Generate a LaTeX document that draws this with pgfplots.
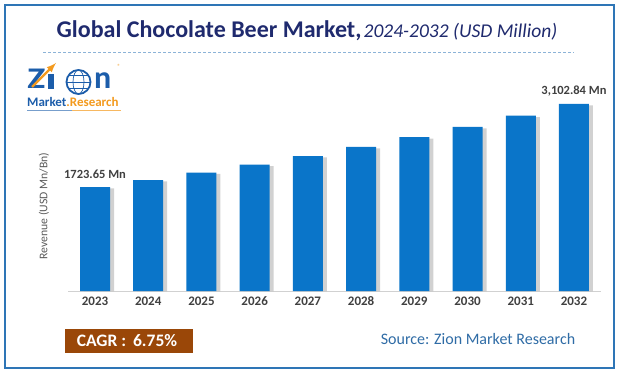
\documentclass[border=0pt]{standalone}
\usepackage{pgfplots}
\pgfplotsset{compat=1.18}
\usepackage{fontspec}
\setmainfont{Carlito}
\definecolor{barblue}{HTML}{0A75C9}
\definecolor{titlenavy}{HTML}{1F2A6E}
\definecolor{zionblue}{HTML}{1C5DAA}
\definecolor{zionorange}{HTML}{F39A1E}
\definecolor{cagrbrown}{HTML}{9A4708}
\definecolor{srcblue}{HTML}{2F6CA6}
\definecolor{framecol}{HTML}{2E75B6}
\definecolor{labgray}{HTML}{404040}
\begin{document}
\begin{tikzpicture}[x=1pt,y=1pt]
\path[use as bounding box, fill=white] (0,0) rectangle (621,375);
% frame
\draw[framecol, line width=1.3pt] (5,7) rectangle (614,370);
% title
\node[anchor=base, text=titlenavy, inner sep=0] at (307,337)
  {{\fontsize{24}{27}\selectfont\bfseries Global Chocolate Beer Market,} {\fontsize{19.5}{22}\selectfont\itshape 2024-2032 (USD Million)}};
\draw[color=framecol!55, line width=0.8pt, dash pattern=on 3pt off 2pt] (43,323) -- (574,323);
% logo
\node[anchor=base west, text=zionblue, inner sep=0, xscale=1.25] at (27,286) {\fontsize{30}{30}\selectfont\bfseries Z};
\fill[zionblue] (48,286) rectangle (54,301);
\draw[zionorange, line width=2.2pt, -{latex}] (32,288) -- (56,312);
\draw[zionblue, line width=1.8pt] (78.5,293) circle (12);
\draw[zionblue, line width=0.7pt] (78.5,293) ellipse (5.5 and 12);
\draw[zionblue, line width=0.7pt] (66.5,293) -- (90.5,293);
\draw[zionblue, line width=0.7pt] (68.5,299.5) -- (88.5,299.5);
\draw[zionblue, line width=0.7pt] (68.5,286.5) -- (88.5,286.5);
\node[anchor=base west, text=zionblue, inner sep=0] at (94,286) {\fontsize{32}{32}\selectfont\bfseries n};
\node[text=zionorange, inner sep=0] at (119,309) {\fontsize{6}{6}\selectfont\textregistered};
\node[anchor=base west, inner sep=0] at (27,268) {\fontsize{13}{13}\selectfont\bfseries\textcolor{zionblue}{Market}\textcolor{zionorange}{.Research}};
\draw[zionblue!60, line width=0.6pt] (27,265) -- (72,265);
\draw[zionorange!70, line width=0.6pt] (72,265) -- (121,265);
% y label
\node[rotate=90, text=black!65, inner sep=0] at (44,169) {\fontsize{11.7}{13}\selectfont Revenue (USD Mn/Bn)};
% axis
\begin{axis}[
  at={(68.4pt,84pt)}, anchor=south west,
  scale only axis, width=532.2pt, height=205pt,
  xmin=-0.5, xmax=9.5, ymin=0, ymax=3400,
  axis y line=none,
  axis x line*=bottom,
  x axis line style={draw=black!18, line width=0.8pt, -},
  xtick={0,...,9},
  xticklabels={2023,2024,2025,2026,2027,2028,2029,2030,2031,2032},
  xticklabel style={font=\fontsize{13}{14}\selectfont\bfseries, text=labgray, yshift=-2pt},
  major tick length=0pt,
  ybar, bar width=30pt,
  clip=false,
]
\addplot[draw=none, fill=black, fill opacity=0.18, bar shift=4pt] coordinates {
 (0,1700) (1,1817) (2,1941) (3,2073) (4,2215) (5,2366) (6,2527) (7,2699) (8,2883) (9,3079)};
\addplot[draw=none, fill=barblue, bar shift=0pt] coordinates {
 (0,1723.65) (1,1840.0) (2,1964.2) (3,2096.8) (4,2238.4) (5,2389.5) (6,2550.7) (7,2722.9) (8,2906.7) (9,3102.84)};
\node[anchor=south, text=labgray, inner sep=0, yshift=8pt] at (axis cs:0,1723.65) {\fontsize{12.5}{14}\selectfont\bfseries 1723.65 Mn};
\node[anchor=south, text=labgray, inner sep=0, yshift=8pt] at (axis cs:9,3102.84) {\fontsize{12.5}{14}\selectfont\bfseries 3,102.84 Mn};
\end{axis}
% CAGR box
\fill[cagrbrown] (65,22) rectangle (193,46);
\node[text=white, inner sep=0] at (127,34) {\fontsize{17.5}{19}\selectfont\bfseries CAGR : \,6.75\%};
\node[text=srcblue, inner sep=0] at (478,36) {\fontsize{16}{18}\selectfont Source: Zion Market Research};
\end{tikzpicture}
\end{document}
